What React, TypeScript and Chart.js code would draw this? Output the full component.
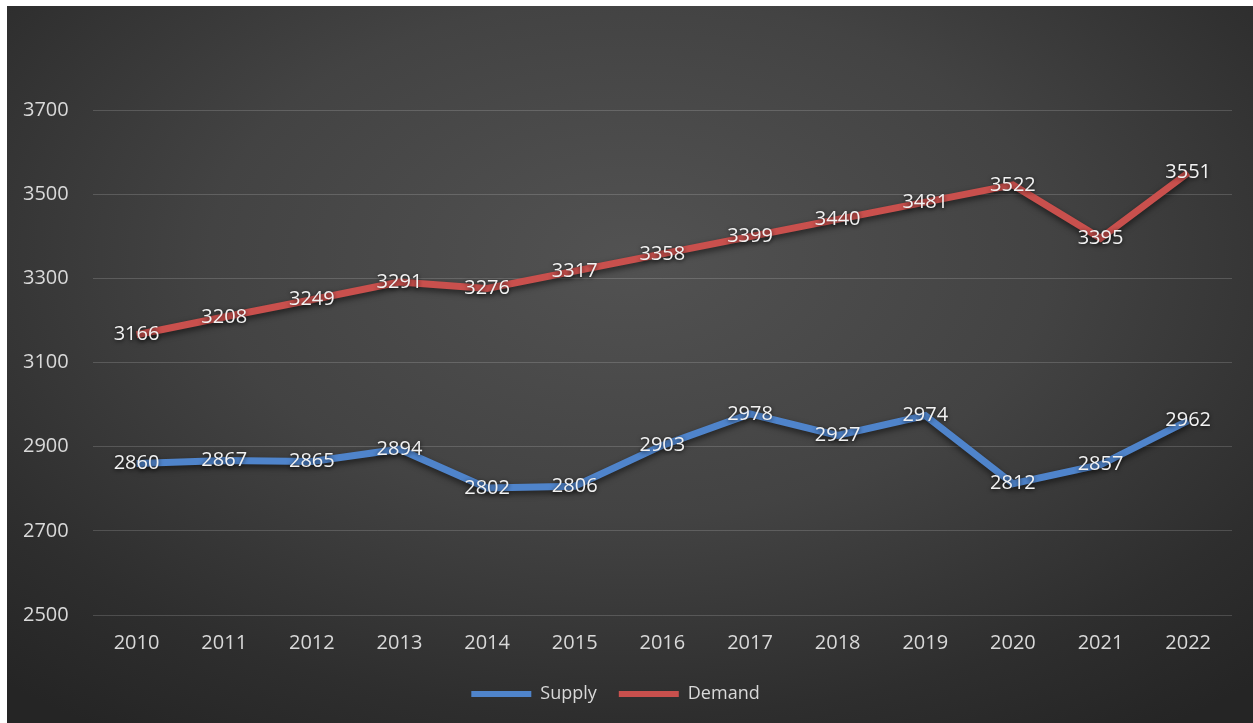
import React, { useEffect, useRef } from 'react';
import { Chart, registerables } from 'chart.js';

Chart.register(...registerables);

const years = ['2010', '2011', '2012', '2013', '2014', '2015', '2016', '2017', '2018', '2019', '2020', '2021', '2022'];
const supply = [2860, 2867, 2865, 2894, 2802, 2806, 2903, 2978, 2927, 2974, 2812, 2857, 2962];
const demand = [3166, 3208, 3249, 3291, 3276, 3317, 3358, 3399, 3440, 3481, 3522, 3395, 3551];

const FONT = "'Open Sans', 'DejaVu Sans', sans-serif";

// shadow under lines + white value labels centred on each point
const lineShadow = {
    id: 'lineShadow',
    beforeDatasetDraw(chart: any) {
        const ctx = chart.ctx;
        ctx.save();
        ctx.shadowColor = 'rgba(0,0,0,0.55)';
        ctx.shadowBlur = 6;
        ctx.shadowOffsetY = 3;
    },
    afterDatasetDraw(chart: any) {
        chart.ctx.restore();
    },
};

const valueLabels = {
    id: 'valueLabels',
    afterDatasetsDraw(chart: any) {
        const ctx = chart.ctx;
        ctx.save();
        ctx.font = `20px ${FONT}`;
        ctx.textAlign = 'center';
        ctx.textBaseline = 'middle';
        ctx.fillStyle = '#f2f2f2';
        ctx.shadowColor = 'rgba(0,0,0,0.8)';
        ctx.shadowBlur = 4;
        ctx.shadowOffsetY = 1;
        chart.data.datasets.forEach((ds: any, i: number) => {
            const meta = chart.getDatasetMeta(i);
            meta.data.forEach((pt: any, j: number) => {
                ctx.fillText(String(ds.data[j]), pt.x, pt.y);
            });
        });
        ctx.restore();
    },
};

const App: React.FC = () => {
    const chartRef = useRef<HTMLCanvasElement | null>(null);

    useEffect(() => {
        document.body.style.margin = '0';
        if (!chartRef.current) return;
        const chart = new Chart(chartRef.current, {
            type: 'line',
            data: {
                labels: years,
                datasets: [
                    {
                        label: 'Supply',
                        data: supply,
                        borderColor: '#4f84cb',
                        backgroundColor: '#4f84cb',
                        borderWidth: 7,
                        pointRadius: 0,
                        tension: 0,
                    },
                    {
                        label: 'Demand',
                        data: demand,
                        borderColor: '#c9504d',
                        backgroundColor: '#c9504d',
                        borderWidth: 7,
                        pointRadius: 0,
                        tension: 0,
                    },
                ],
            },
            options: {
                responsive: true,
                maintainAspectRatio: false,
                animation: false,
                layout: { padding: { top: 104, left: -8, right: 21, bottom: 10 } },
                plugins: {
                    legend: {
                        position: 'bottom',
                        labels: {
                            boxWidth: 60,
                            boxHeight: 6,
                            padding: 22,
                            color: '#d9d9d9',
                            font: { size: 18, family: FONT },
                            generateLabels: (c: any) =>
                                Chart.defaults.plugins.legend.labels.generateLabels(c).map((it: any) => ({
                                    ...it,
                                    lineWidth: 0,
                                })),
                        },
                    },
                    tooltip: { enabled: false },
                },
                scales: {
                    x: {
                        offset: true,
                        grid: { display: false },
                        border: { display: false },
                        ticks: { color: '#d9d9d9', font: { size: 20, family: FONT }, padding: 8 },
                    },
                    y: {
                        min: 2500,
                        max: 3700,
                        grid: { color: 'rgba(255,255,255,0.16)', drawTicks: false },
                        border: { display: false },
                        ticks: {
                            stepSize: 200,
                            color: '#d9d9d9',
                            font: { size: 20, family: FONT },
                            padding: 24,
                            callback: (v: any) => String(v),
                        },
                    },
                },
            },
            plugins: [lineShadow, valueLabels],
        });
        return () => chart.destroy();
    }, []);

    return (
        <div style={{ width: 1253, height: 723, background: '#fff', position: 'relative', overflow: 'hidden' }}>
            <div
                style={{
                    position: 'absolute',
                    left: 7,
                    top: 6,
                    width: 1246,
                    height: 717,
                    background: 'radial-gradient(ellipse 75% 80% at 50% 35%, #525252 0%, #434343 45%, #2e2e2e 80%, #252525 100%)',
                }}
            >
                <canvas ref={chartRef}></canvas>
            </div>
        </div>
    );
};

export default App;
